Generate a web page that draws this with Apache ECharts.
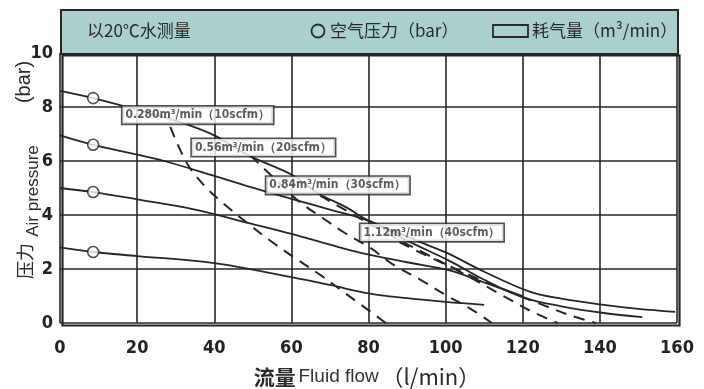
<!DOCTYPE html>
<html><head><meta charset="utf-8">
<script src="https://cdn.jsdelivr.net/npm/echarts@6/dist/echarts.min.js"></script>
<style>html,body{margin:0;padding:0;background:#fff}#c{width:704px;height:389px}</style>
</head><body><div id="c"></div>
<script>
// ---- data ----
const xTicks = [0, 20, 40, 60, 80, 100, 120, 140, 160];
const yTicks = [0, 2, 4, 6, 8, 10];
// constant air pressure curves (solid): flow l/min, pressure bar
const pA_x = [0, 8.6, 16, 24, 32, 40, 49, 60, 67, 74, 80, 90, 96, 101, 110, 122, 130, 141, 150, 159.5];
const pA_y = [8.6, 8.33, 8.05, 7.75, 7.4, 6.95, 6.2, 5.5, 4.8, 4.3, 3.8, 3.2, 2.85, 2.55, 1.9, 1.15, 0.9, 0.67, 0.52, 0.41];
const pB_x = [0, 8.6, 18, 27, 40, 49, 60, 70, 80, 90, 101, 110, 120, 130, 141, 151];
const pB_y = [6.95, 6.6, 6.3, 6.0, 5.45, 5.05, 4.6, 4.2, 3.78, 3.05, 2.3, 1.6, 0.95, 0.62, 0.37, 0.22];
const pC_x = [0, 8.6, 20, 35, 49, 60, 70, 78, 90, 101, 110, 120];
const pC_y = [5.0, 4.85, 4.58, 4.2, 3.7, 3.3, 2.9, 2.6, 2.25, 1.95, 1.5, 1.0];
const pD_x = [0, 8.6, 20, 40, 60, 70, 80, 90, 100, 110];
const pD_y = [2.8, 2.63, 2.48, 2.22, 1.7, 1.41, 1.1, 0.92, 0.78, 0.67];
const markerX = [8.6, 8.6, 8.6, 8.6];
const markerY = [8.33, 6.6, 4.85, 2.63];
// constant air consumption curves (dashed)
const c10_x = [28.6, 33, 38, 43, 48.6, 55, 61, 67.5, 74, 84.5];
const c10_y = [7.26, 5.9, 5.0, 4.35, 3.7, 3.0, 2.4, 1.78, 1.1, 0.0];
const c20_x = [49.4, 56, 62, 68, 73.5, 80.5, 86, 93.5, 100, 107, 112];
const c20_y = [6.2, 5.3, 4.5, 3.9, 3.37, 2.78, 2.2, 1.6, 1.04, 0.48, 0.0];
const c30_x = [67.5, 75, 85, 95, 105, 115, 122, 129];
const c30_y = [4.72, 4.1, 3.3, 2.55, 1.8, 1.0, 0.45, 0.0];
const c40_x = [88, 95, 105, 115, 125, 132, 139];
const c40_y = [3.0, 2.5, 1.85, 1.25, 0.68, 0.3, 0.0];
const boxLabels = ['0.280m³/min（10scfm）', '0.56m³/min（20scfm）', '0.84m³/min（30scfm）', '1.12m³/min（40scfm）'];
const boxX = [16.2, 34.2, 53.5, 77.9];
const boxY = [7.7, 6.5, 5.1, 3.35];

const zip = (xs, ys) => xs.map((x, i) => [x, ys[i]]);
const INK = '#262626';
const TICKFONT = '"DejaVu Sans Condensed", "Liberation Sans", sans-serif';
const solid = (xs, ys) => ({type:'line', data: zip(xs, ys), smooth: 0.35, symbol:'none', z:3,
  lineStyle:{color:INK, width:1.8}});
const dashed = (xs, ys) => ({type:'line', data: zip(xs, ys), smooth: 0.35, symbol:'none', z:3,
  lineStyle:{color:INK, width:2, type:[11, 8]}});
const vtext = (x, y, text, font) => ({type:'text', x, y, rotation:Math.PI/2, z:11,
  style:{text, font, fill:'#2a2a2a', align:'center', verticalAlign:'middle'}});

const chart = echarts.init(document.getElementById('c'));
chart.setOption({
  animation:false,
  grid:{left:60, right:27, top:53, bottom:66},
  xAxis:{type:'value', min:0, max:160, interval:20,
    axisLine:{show:false}, axisTick:{show:false},
    splitLine:{show:true, lineStyle:{color:INK, width:1.6}},
    axisLabel:{color:'#222', fontSize:18, fontWeight:'bold', fontFamily:TICKFONT, margin:16}},
  yAxis:{type:'value', min:0, max:10, interval:2,
    axisLine:{show:false}, axisTick:{show:false},
    splitLine:{show:true, lineStyle:{color:INK, width:1.6}},
    axisLabel:{color:'#222', fontSize:18, fontWeight:'bold', fontFamily:TICKFONT, margin:7}},
  graphic:[
    {type:'rect', left:60, top:9, shape:{width:617, height:44}, style:{fill:'#a9d0cc', stroke:INK, lineWidth:2}, z:10},
    {type:'rect', left:60, top:53, shape:{width:617, height:270}, style:{fill:'none', stroke:INK, lineWidth:2.2}, z:10},
    {type:'text', x:87, y:31, style:{text:'以20℃水测量', font:'17px "Noto Sans CJK SC"', fill:'#2a2a2a', verticalAlign:'middle'}, z:11},
    {type:'circle', shape:{cx:318, cy:31, r:6.5}, style:{fill:'none', stroke:'#2a2a2a', lineWidth:1.8}, z:11},
    {type:'text', x:330, y:31, style:{text:'空气压力（bar）', font:'17px "Noto Sans CJK SC"', fill:'#2a2a2a', verticalAlign:'middle'}, z:11},
    {type:'rect', shape:{x:493, y:25, width:35, height:12}, style:{fill:'none', stroke:'#2a2a2a', lineWidth:1.8}, z:11},
    {type:'text', x:532, y:31, style:{text:'耗气量（m³/min）', font:'17px "Noto Sans CJK SC"', fill:'#2a2a2a', verticalAlign:'middle'}, z:11},
    {type:'text', x:367, y:377, style:{rich:{
        a:{fontSize:21, fontFamily:'Noto Sans CJK SC', fontWeight:'bold', fill:'#2a2a2a'},
        b:{fontSize:19, fontFamily:'Liberation Sans', fill:'#333'},
        s:{fontSize:10},
        c:{fontSize:22, fontFamily:'Noto Sans CJK SC', fill:'#2a2a2a'}},
        text:'{a|流量}{s| }{b|Fluid flow}{s| }{c|（l/min）}', align:'center', verticalAlign:'middle'}, z:11},
    vtext(25, 261, '压力', '18px "Noto Sans CJK SC"'),
    vtext(33, 191, 'Air pressure', '17px "Liberation Sans"'),
    vtext(24, 82, '(bar)', '20px "Liberation Sans"')
  ],
  series:[
    solid(pA_x, pA_y), solid(pB_x, pB_y), solid(pC_x, pC_y), solid(pD_x, pD_y),
    dashed(c10_x, c10_y), dashed(c20_x, c20_y), dashed(c30_x, c30_y), dashed(c40_x, c40_y),
    {type:'scatter', data: zip(markerX, markerY), symbol:'circle', symbolSize:11, z:5,
      itemStyle:{color:'#fff', borderColor:INK, borderWidth:1.6}},
    {type:'scatter', data: zip(boxX, boxY), symbolSize:0, z:6,
      label:{show:true, position:'right', distance:0,
        formatter: p => boxLabels[p.dataIndex],
        fontSize:12, fontWeight:'bold', fontFamily:TICKFONT, color:'#333',
        backgroundColor:'#fff', borderColor:INK, borderWidth:1.6, padding:[3,3,2,3]}}
  ]
});
</script></body></html>
